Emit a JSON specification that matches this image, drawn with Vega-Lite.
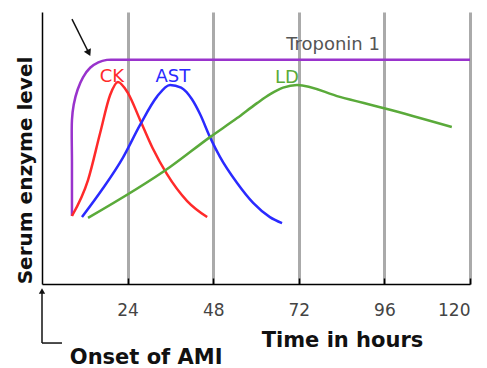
{
  "$schema": "https://vega.github.io/schema/vega-lite/v6.json",
  "autosize": "none",
  "width": 428,
  "height": 272,
  "padding": {"left": 42, "top": 12, "right": 17, "bottom": 84},
  "background": "white",
  "config": {"view": {"stroke": null}, "font": "DejaVu Sans"},
  "datasets": {
    "curves": [
      {"series": "Troponin 1", "i": 1, "hours": 8.4, "level": 25.0},
      {"series": "Troponin 1", "i": 2, "hours": 8.4, "level": 45.0},
      {"series": "Troponin 1", "i": 3, "hours": 8.4, "level": 60.3},
      {"series": "Troponin 1", "i": 4, "hours": 8.9, "level": 66.0},
      {"series": "Troponin 1", "i": 5, "hours": 10.0, "level": 71.5},
      {"series": "Troponin 1", "i": 6, "hours": 11.5, "level": 76.0},
      {"series": "Troponin 1", "i": 7, "hours": 13.5, "level": 79.5},
      {"series": "Troponin 1", "i": 8, "hours": 15.8, "level": 81.5},
      {"series": "Troponin 1", "i": 9, "hours": 18.2, "level": 82.4},
      {"series": "Troponin 1", "i": 10, "hours": 22.0, "level": 82.4},
      {"series": "Troponin 1", "i": 11, "hours": 120.0, "level": 82.4},
      {"series": "CK", "i": 1, "hours": 8.4, "level": 25.0},
      {"series": "CK", "i": 2, "hours": 12.9, "level": 38.2},
      {"series": "CK", "i": 3, "hours": 16.3, "level": 55.5},
      {"series": "CK", "i": 4, "hours": 19.1, "level": 69.5},
      {"series": "CK", "i": 5, "hours": 21.3, "level": 74.3},
      {"series": "CK", "i": 6, "hours": 24.1, "level": 70.2},
      {"series": "CK", "i": 7, "hours": 27.5, "level": 60.3},
      {"series": "CK", "i": 8, "hours": 31.0, "level": 50.0},
      {"series": "CK", "i": 9, "hours": 35.0, "level": 40.5},
      {"series": "CK", "i": 10, "hours": 40.7, "level": 30.5},
      {"series": "CK", "i": 11, "hours": 46.3, "level": 24.6},
      {"series": "AST", "i": 1, "hours": 11.2, "level": 24.6},
      {"series": "AST", "i": 2, "hours": 17.0, "level": 35.0},
      {"series": "AST", "i": 3, "hours": 22.7, "level": 46.5},
      {"series": "AST", "i": 4, "hours": 27.5, "level": 58.5},
      {"series": "AST", "i": 5, "hours": 32.2, "level": 68.8},
      {"series": "AST", "i": 6, "hours": 35.9, "level": 73.2},
      {"series": "AST", "i": 7, "hours": 39.0, "level": 72.2},
      {"series": "AST", "i": 8, "hours": 42.0, "level": 68.0},
      {"series": "AST", "i": 9, "hours": 44.3, "level": 62.5},
      {"series": "AST", "i": 10, "hours": 47.1, "level": 54.0},
      {"series": "AST", "i": 11, "hours": 49.9, "level": 46.7},
      {"series": "AST", "i": 12, "hours": 54.7, "level": 37.1},
      {"series": "AST", "i": 13, "hours": 59.2, "level": 29.8},
      {"series": "AST", "i": 14, "hours": 63.9, "level": 24.6},
      {"series": "AST", "i": 15, "hours": 67.3, "level": 22.4},
      {"series": "LD", "i": 1, "hours": 12.9, "level": 24.3},
      {"series": "LD", "i": 2, "hours": 35.9, "level": 43.0},
      {"series": "LD", "i": 3, "hours": 47.1, "level": 54.0},
      {"series": "LD", "i": 4, "hours": 54.7, "level": 61.0},
      {"series": "LD", "i": 5, "hours": 60.3, "level": 66.5},
      {"series": "LD", "i": 6, "hours": 64.0, "level": 69.8},
      {"series": "LD", "i": 7, "hours": 67.6, "level": 72.2},
      {"series": "LD", "i": 8, "hours": 71.5, "level": 73.2},
      {"series": "LD", "i": 9, "hours": 83.5, "level": 68.8},
      {"series": "LD", "i": 10, "hours": 96.2, "level": 64.5},
      {"series": "LD", "i": 11, "hours": 114.9, "level": 57.7}
    ],
    "labels": [
      {"label": "Troponin 1", "hours": 81.6, "level": 87.9},
      {"label": "CK", "hours": 19.6, "level": 76.1},
      {"label": "AST", "hours": 36.7, "level": 76.1},
      {"label": "LD", "hours": 68.7, "level": 75.7}
    ],
    "arrows": [
      {"name": "peak", "hours": 8.4, "level": 97.4, "hours2": 13.0, "level2": 85.3},
      {"name": "onset", "hours": 0, "level": -21.7, "hours2": 0, "level2": -2.6},
      {"name": "onset", "hours": 0, "level": -21.7, "hours2": 5.6, "level2": -21.7}
    ],
    "heads": [
      {"name": "peak", "hours": 13.0, "level": 85.3},
      {"name": "onset", "hours": 0, "level": -2.6}
    ],
    "notes": [
      {"note": "Onset of AMI", "hours": 29.2, "level": -27.2}
    ]
  },
  "encoding": {
    "x": {
      "field": "hours", "type": "quantitative",
      "scale": {"domain": [0, 120], "nice": false},
      "axis": {
        "values": [24, 48, 72, 96, 120],
        "grid": true, "gridColor": "#aaaaaa", "gridWidth": 3, "gridOpacity": 1,
        "domainColor": "#000000", "domainWidth": 1.5,
        "ticks": true, "tickColor": "#000000", "tickSize": -6, "tickWidth": 1.5,
        "labelFont": "DejaVu Sans", "labelFontSize": 17, "labelColor": "#444444", "labelPadding": 24,
        "title": "Time in hours", "titleFont": "DejaVu Sans", "titleFontSize": 21, "titleFontWeight": "bold",
        "titleColor": "#111111", "titleX": 300, "titleY": 62, "titleBaseline": "alphabetic", "titleAlign": "center"
      }
    },
    "y": {
      "field": "level", "type": "quantitative",
      "scale": {"domain": [0, 100], "nice": false},
      "axis": {
        "grid": false, "ticks": false, "labels": false,
        "domainColor": "#000000", "domainWidth": 1.5,
        "title": "Serum enzyme level", "titleFont": "DejaVu Sans", "titleFontSize": 20, "titleFontWeight": "bold",
        "titleColor": "#111111", "titleX": -11, "titleY": 158, "titleAngle": -90, "titleBaseline": "alphabetic", "titleAlign": "center"
      }
    }
  },
  "layer": [
    {
      "data": {"name": "curves"},
      "transform": [{"filter": "datum.series === 'Troponin 1'"}],
      "mark": {"type": "line", "interpolate": "catmull-rom", "strokeWidth": 2.5},
      "encoding": {
        "order": {"field": "i", "type": "quantitative"},
        "color": {
          "field": "series", "type": "nominal",
          "scale": {"domain": ["Troponin 1", "CK", "AST", "LD"], "range": ["#9933cc", "#ff2a2a", "#2a2aff", "#5aaa3a"]},
          "legend": null
        }
      }
    },
    {
      "data": {"name": "curves"},
      "transform": [{"filter": "datum.series !== 'Troponin 1'"}],
      "mark": {"type": "line", "interpolate": "monotone", "strokeWidth": 2.5},
      "encoding": {
        "order": {"field": "i", "type": "quantitative"},
        "color": {
          "field": "series", "type": "nominal",
          "scale": {"domain": ["Troponin 1", "CK", "AST", "LD"], "range": ["#9933cc", "#ff2a2a", "#2a2aff", "#5aaa3a"]},
          "legend": null
        }
      }
    },
    {
      "data": {"name": "labels"},
      "mark": {"type": "text", "font": "DejaVu Sans", "fontSize": 18, "baseline": "middle", "align": "center"},
      "encoding": {
        "text": {"field": "label"},
        "color": {
          "field": "label", "type": "nominal",
          "scale": {"domain": ["Troponin 1", "CK", "AST", "LD"], "range": ["#555555", "#ff2a2a", "#2a2aff", "#5aaa3a"]},
          "legend": null
        }
      }
    },
    {
      "data": {"name": "arrows"},
      "mark": {"type": "rule", "color": "#111111", "strokeWidth": 1.5},
      "encoding": {
        "x2": {"field": "hours2"},
        "y2": {"field": "level2"}
      }
    },
    {
      "data": {"name": "heads"},
      "transform": [{"filter": "datum.name === 'peak'"}],
      "mark": {"type": "point", "shape": "triangle", "angle": 154, "filled": true, "color": "#111111", "size": 60, "opacity": 1},
      "encoding": {}
    },
    {
      "data": {"name": "heads"},
      "transform": [{"filter": "datum.name === 'onset'"}],
      "mark": {"type": "point", "shape": "triangle-up", "filled": true, "color": "#111111", "size": 40, "opacity": 1},
      "encoding": {}
    },
    {
      "data": {"name": "notes"},
      "mark": {"type": "text", "font": "DejaVu Sans", "fontSize": 21, "fontWeight": "bold", "color": "#111111", "baseline": "middle", "align": "center"},
      "encoding": {
        "text": {"field": "note"}
      }
    }
  ],
  "resolve": {"scale": {"color": "independent"}}
}
